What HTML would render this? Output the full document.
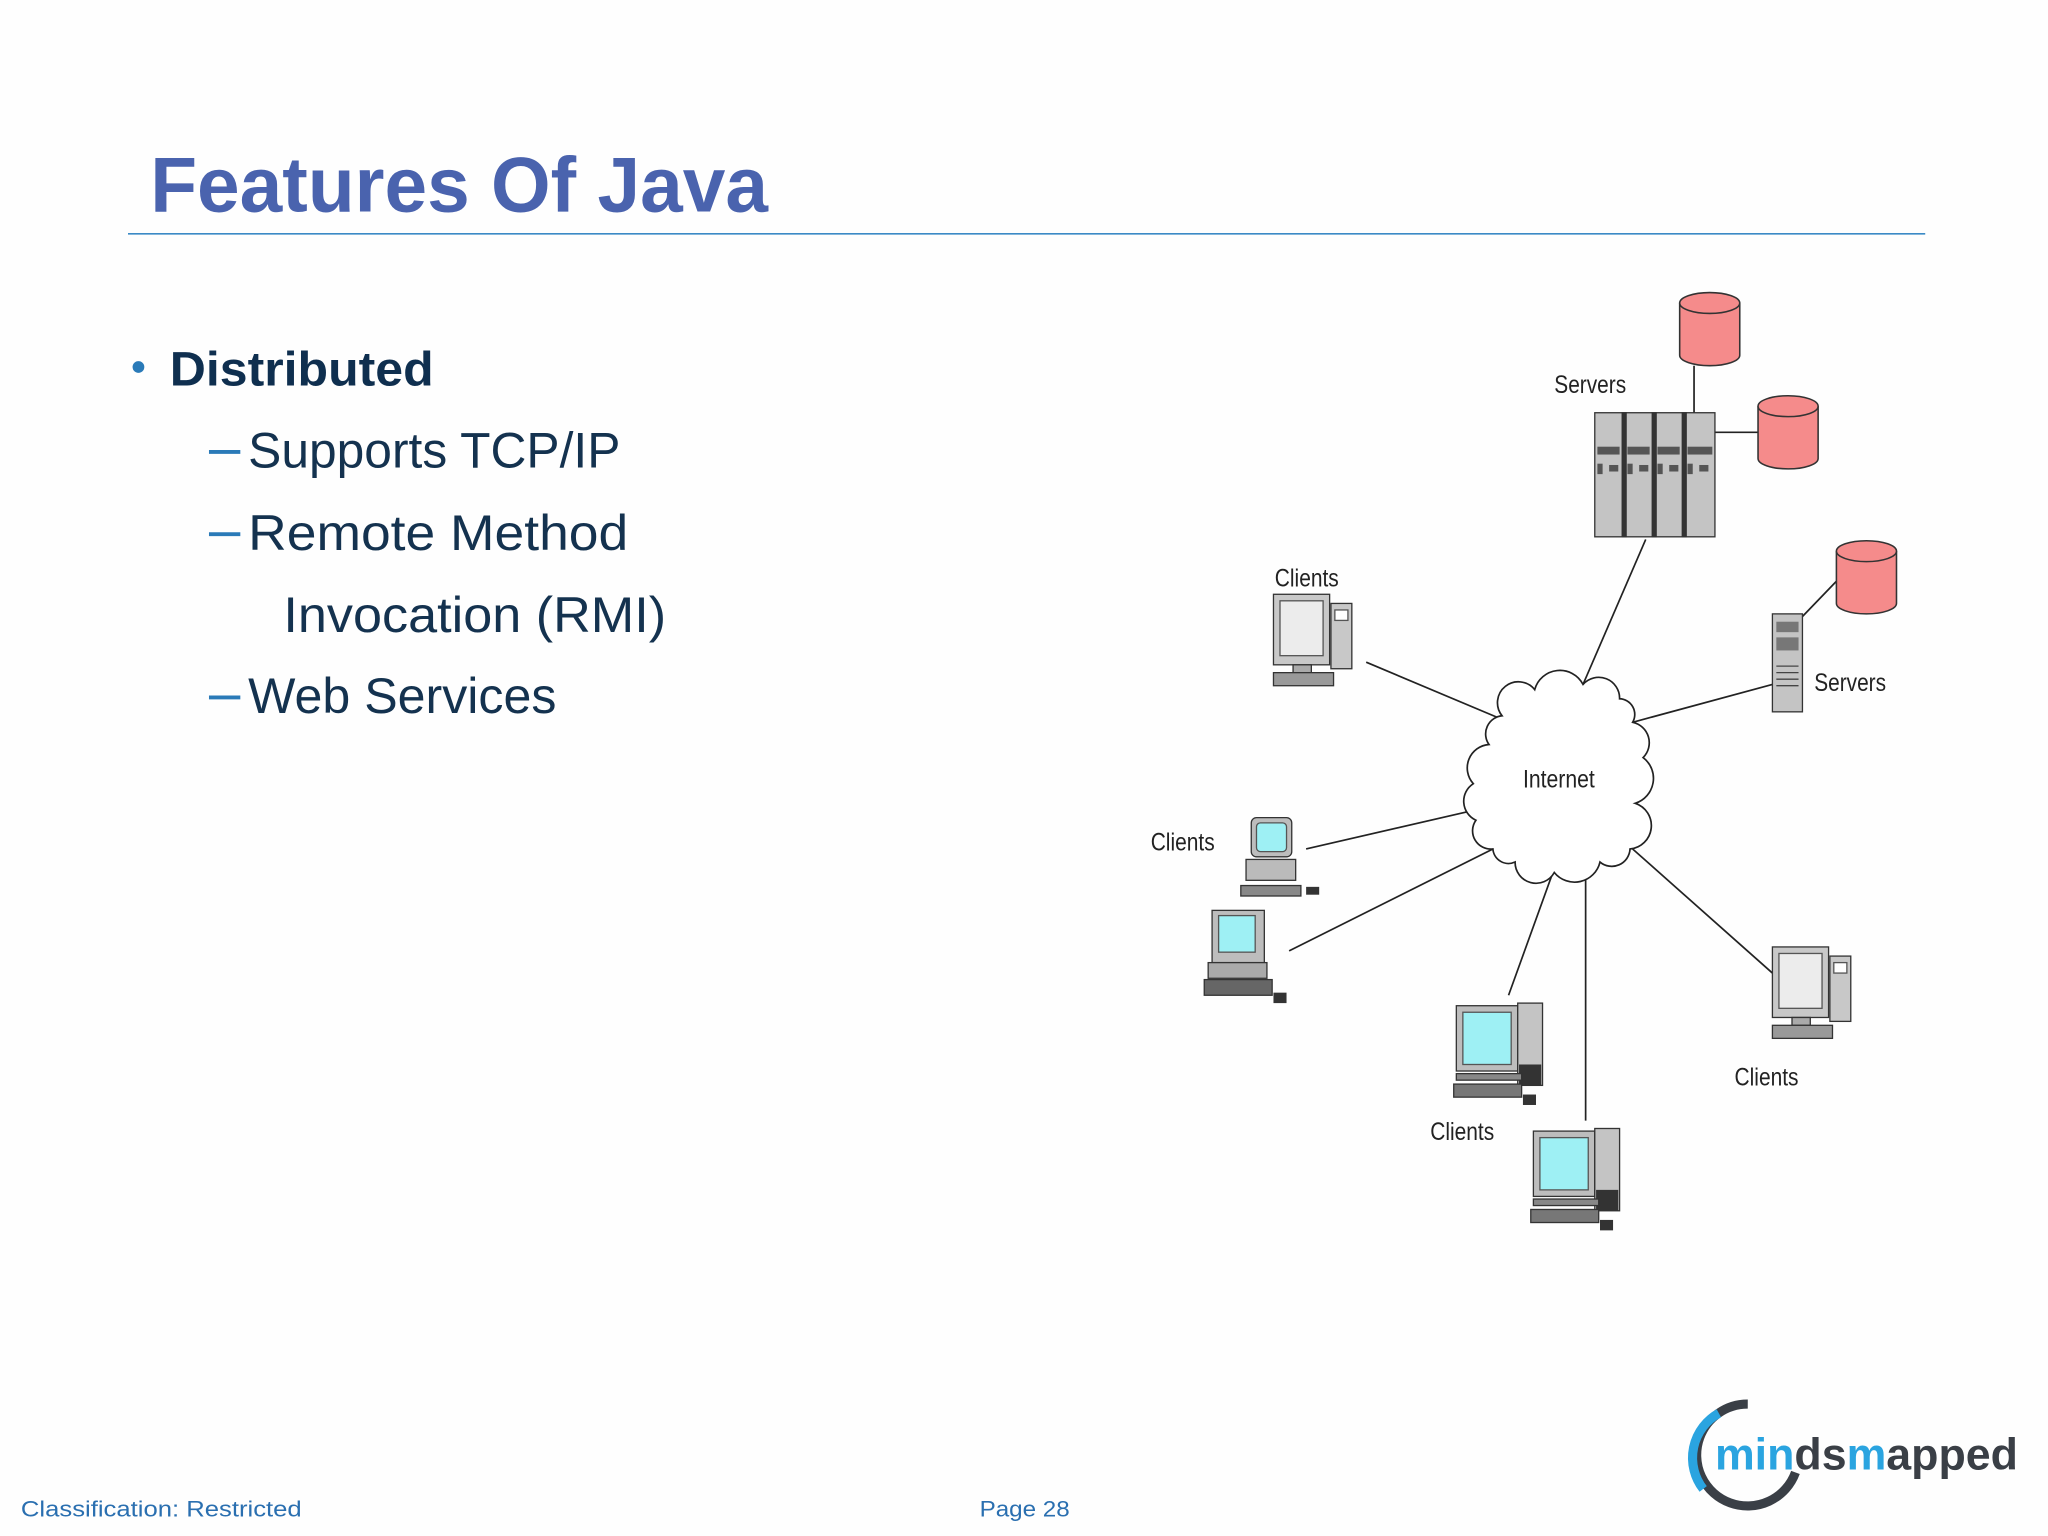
<!DOCTYPE html>
<html><head><meta charset="utf-8"><style>
html,body{margin:0;padding:0;background:#fff;}
svg{display:block;}
</style></head><body>
<svg width="2048" height="1536" viewBox="0 0 1568 1176" xmlns="http://www.w3.org/2000/svg" font-family="'Liberation Sans', sans-serif">
<rect width="1568" height="1176" fill="#fefefe"/>
<!-- title -->
<text x="115" y="162" font-size="60" font-weight="bold" fill="#4a63ae" textLength="473" lengthAdjust="spacingAndGlyphs">Features Of Java</text>
<line x1="98" y1="179" x2="1474" y2="179" stroke="#3b8ac6" stroke-width="1.3"/>
<!-- bullets -->
<circle cx="106" cy="281" r="4.5" fill="#2a7ab8"/>
<text x="130" y="295" font-size="37" font-weight="bold" fill="#0f2f4f" textLength="202" lengthAdjust="spacingAndGlyphs">Distributed</text>
<g font-size="38" fill="#14324f">
<line x1="160" y1="346" x2="184" y2="346" stroke="#2a7ab8" stroke-width="3"/>
<text x="190" y="358" textLength="285" lengthAdjust="spacingAndGlyphs">Supports TCP/IP</text>
<line x1="160" y1="409" x2="184" y2="409" stroke="#2a7ab8" stroke-width="3"/>
<text x="190" y="421" textLength="291" lengthAdjust="spacingAndGlyphs">Remote Method</text>
<text x="217" y="484" textLength="293" lengthAdjust="spacingAndGlyphs">Invocation (RMI)</text>
<line x1="160" y1="534" x2="184" y2="534" stroke="#2a7ab8" stroke-width="3"/>
<text x="190" y="546" textLength="236" lengthAdjust="spacingAndGlyphs">Web Services</text>
</g>
<!-- connectors -->
<g stroke="#222" stroke-width="1.3" fill="none">
<line x1="1297" y1="280" x2="1297" y2="316"/>
<line x1="1313" y1="331" x2="1346" y2="331"/>
<line x1="1380" y1="472" x2="1406" y2="445"/>
<line x1="1212" y1="524" x2="1260" y2="413"/>
<line x1="1250" y1="553" x2="1357" y2="524"/>
<line x1="1153" y1="552" x2="1046" y2="507"/>
<line x1="1130" y1="620" x2="1000" y2="650"/>
<line x1="1143" y1="650" x2="987" y2="728"/>
<line x1="1190" y1="665" x2="1155" y2="762"/>
<line x1="1214" y1="668" x2="1214" y2="858"/>
<line x1="1250" y1="650" x2="1357" y2="745"/>
</g>
<!-- cloud -->
<path d="M1150,548 A14,14 0 0 1 1175,528 A20,20 0 0 1 1212,524 A16,16 0 0 1 1240,535 A12,12 0 0 1 1250,553 A16,16 0 0 1 1258,580 A20,20 0 0 1 1252,615 A18,18 0 0 1 1248,650 A14,14 0 0 1 1225,660 A20,20 0 0 1 1190,668 A16,16 0 0 1 1160,660 A12,12 0 0 1 1143,650 A14,14 0 0 1 1130,628 A16,16 0 0 1 1128,600 A18,18 0 0 1 1140,570 A14,14 0 0 1 1150,548 Z" fill="#fff" stroke="#222" stroke-width="1.3"/>
<g font-size="19" fill="#222">
<text x="1166" y="603" textLength="55" lengthAdjust="spacingAndGlyphs">Internet</text>
<text x="1190" y="301" textLength="55" lengthAdjust="spacingAndGlyphs">Servers</text>
<text x="1389" y="529" textLength="55" lengthAdjust="spacingAndGlyphs">Servers</text>
<text x="976" y="449" textLength="49" lengthAdjust="spacingAndGlyphs">Clients</text>
<text x="881" y="651" textLength="49" lengthAdjust="spacingAndGlyphs">Clients</text>
<text x="1095" y="873" textLength="49" lengthAdjust="spacingAndGlyphs">Clients</text>
<text x="1328" y="831" textLength="49" lengthAdjust="spacingAndGlyphs">Clients</text>
</g>
<!-- cylinders -->
<g fill="#f58b8b" stroke="#333" stroke-width="1.2">
<path d="M1286,232 v40 a23,8 0 0 0 46,0 v-40"/><ellipse cx="1309" cy="232" rx="23" ry="8"/>
<path d="M1346,311 v40 a23,8 0 0 0 46,0 v-40"/><ellipse cx="1369" cy="311" rx="23" ry="8"/>
<path d="M1406,422 v40 a23,8 0 0 0 46,0 v-40"/><ellipse cx="1429" cy="422" rx="23" ry="8"/>
</g>
<!-- server rack -->
<g stroke="#333" stroke-width="1">
<rect x="1221" y="316" width="92" height="95" fill="#c4c4c4"/>
<rect x="1242" y="316" width="3" height="95" fill="#333"/>
<rect x="1265" y="316" width="3" height="95" fill="#333"/>
<rect x="1288" y="316" width="3" height="95" fill="#333"/>
</g>
<g fill="#555">
<rect x="1223" y="342" width="17" height="6"/><rect x="1246" y="342" width="17" height="6"/><rect x="1269" y="342" width="17" height="6"/><rect x="1292" y="342" width="19" height="6"/>
<rect x="1223" y="355" width="4" height="8"/><rect x="1246" y="355" width="4" height="8"/><rect x="1269" y="355" width="4" height="8"/><rect x="1292" y="355" width="4" height="8"/>
<rect x="1232" y="356" width="7" height="5"/><rect x="1255" y="356" width="7" height="5"/><rect x="1278" y="356" width="7" height="5"/><rect x="1301" y="356" width="7" height="5"/>
</g>
<!-- small server tower -->
<rect x="1357" y="470" width="23" height="75" fill="#c4c4c4" stroke="#333"/>
<rect x="1360" y="476" width="17" height="8" fill="#777"/>
<rect x="1360" y="488" width="17" height="10" fill="#777"/>
<g stroke="#444"><line x1="1360" y1="510" x2="1377" y2="510"/><line x1="1360" y1="515" x2="1377" y2="515"/><line x1="1360" y1="520" x2="1377" y2="520"/><line x1="1360" y1="525" x2="1377" y2="525"/></g>
<!-- client grey monitors -->
<g id="pcg">
<rect x="975" y="455" width="43" height="54" fill="#c8c8c8" stroke="#333"/>
<rect x="980" y="460" width="33" height="42" fill="#ececec" stroke="#555"/>
<rect x="990" y="509" width="14" height="6" fill="#aaa" stroke="#333"/>
<rect x="975" y="515" width="46" height="10" fill="#999" stroke="#333"/>
<rect x="1019" y="462" width="16" height="50" fill="#c8c8c8" stroke="#333"/>
<rect x="1022" y="467" width="10" height="8" fill="#fff" stroke="#555"/>
</g>
<use href="#pcg" x="382" y="270"/>
<!-- cyan PCs -->
<g id="pcc">
<rect x="1115" y="770" width="47" height="50" fill="#bdbdbd" stroke="#333"/>
<rect x="1120" y="775" width="37" height="40" fill="#9ef0f4" stroke="#555"/>
<rect x="1162" y="768" width="19" height="63" fill="#c4c4c4" stroke="#333"/>
<rect x="1163" y="815" width="17" height="16" fill="#333"/>
<rect x="1115" y="822" width="50" height="5" fill="#888" stroke="#333"/>
<rect x="1113" y="830" width="52" height="10" fill="#777" stroke="#333"/>
<rect x="1166" y="838" width="10" height="8" fill="#333"/>
</g>
<use href="#pcc" x="59" y="96"/>
<g>
<rect x="928" y="697" width="40" height="40" fill="#bdbdbd" stroke="#333"/>
<rect x="933" y="701" width="28" height="28" fill="#9ef0f4" stroke="#555"/>
<rect x="925" y="737" width="45" height="12" fill="#aaa" stroke="#333"/>
<rect x="922" y="750" width="52" height="12" fill="#666" stroke="#333"/>
<rect x="975" y="760" width="10" height="8" fill="#333"/>
</g>
<g>
<rect x="958" y="626" width="31" height="30" rx="4" fill="#bdbdbd" stroke="#333"/>
<rect x="962" y="630" width="23" height="22" rx="3" fill="#9ef0f4" stroke="#555"/>
<rect x="954" y="658" width="38" height="16" fill="#bbb" stroke="#333"/>
<rect x="950" y="678" width="46" height="8" fill="#888" stroke="#333"/>
<rect x="1000" y="679" width="10" height="6" fill="#333"/>
</g>
<!-- logo -->
<circle cx="1338" cy="1114" r="39" fill="none" stroke="#3a3f46" stroke-width="7" stroke-dasharray="170 75" transform="rotate(20 1338 1114)"/>
<path d="M1316,1082 A39,39 0 0 0 1304,1140" fill="none" stroke="#2aa4e0" stroke-width="7"/>
<text x="1313" y="1125" font-size="34" font-weight="bold" textLength="232" lengthAdjust="spacingAndGlyphs"><tspan fill="#2aa4e0">min</tspan><tspan fill="#3a3f46">ds</tspan><tspan fill="#2aa4e0">m</tspan><tspan fill="#3a3f46">apped</tspan></text>
<!-- footer -->
<text x="16" y="1161" font-size="17" fill="#2a6fb0" textLength="215" lengthAdjust="spacingAndGlyphs">Classification: Restricted</text>
<text x="750" y="1161" font-size="17" fill="#2a6fb0" textLength="69" lengthAdjust="spacingAndGlyphs">Page 28</text>
</svg>
</body></html>
